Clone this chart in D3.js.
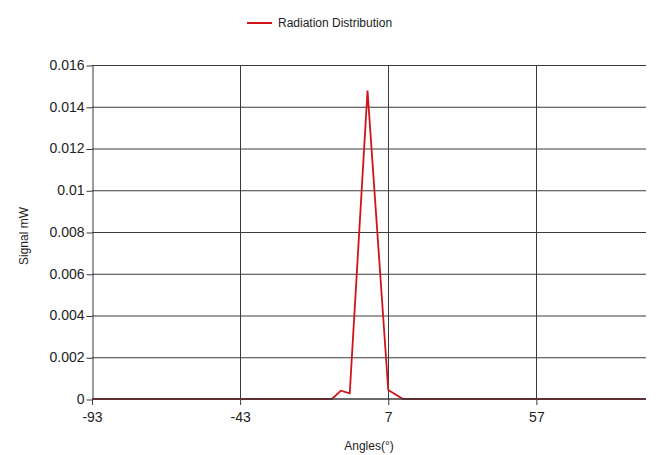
<!DOCTYPE html>
<html lang="en">
<head>
    <meta charset="UTF-8">
    <title>Radiation Distribution</title>
    <style>
        body {
            margin: 0;
            padding: 0;
            background: #fff;
            font-family: "Liberation Sans", Arial, sans-serif;
        }
        .grid line {
            stroke: #3a3a3a;
            stroke-width: 1px;
        }
        .axis text {
            fill: #222;
            font-size: 14px;
        }
        .axis path, .axis line {
            stroke: #3a3a3a;
        }
    </style>
</head>
<body>
    <div id="chart"></div>

    <script src="https://d3js.org/d3.v7.min.js"></script>
    <script>
        // measured angles (deg) and signal (mW)
        const angles  = [-93, -80, -60, -40, -20, -12, -9, -6, 0, 7, 12, 20, 40, 60, 80, 94];
        const signals = [0, 0, 0, 0, 0, 0, 0.0004, 0.00027, 0.01477, 0.00043, 0, 0, 0, 0, 0, 0];
        const xTicks = [-93, -43, 7, 57];
        const yTicks = [0, 0.002, 0.004, 0.006, 0.008, 0.01, 0.012, 0.014, 0.016];
        const seriesName = "Radiation Distribution";

        const width = 667, height = 455;
        const margin = { left: 92, right: 21, top: 65, bottom: 56 };

        const svg = d3.select("#chart")
            .append("svg")
            .attr("width", width)
            .attr("height", height);

        const x = d3.scaleLinear()
            .domain([-93, 94])
            .range([margin.left, width - margin.right]);
        const y = d3.scaleLinear()
            .domain([0, 0.016])
            .range([height - margin.bottom, margin.top]);

        // horizontal grid
        svg.append("g").attr("class", "grid")
            .selectAll("line")
            .data(yTicks.filter(d => d > 0))
            .enter().append("line")
            .attr("x1", x.range()[0])
            .attr("x2", x.range()[1])
            .attr("y1", d => y(d) + 0.5)
            .attr("y2", d => y(d) + 0.5);

        // vertical grid
        svg.append("g").attr("class", "grid")
            .selectAll("line")
            .data(xTicks.slice(1))
            .enter().append("line")
            .attr("x1", d => Math.round(x(d)) + 0.5)
            .attr("x2", d => Math.round(x(d)) + 0.5)
            .attr("y1", y.range()[1])
            .attr("y2", y.range()[0]);

        // series
        const line = d3.line()
            .x((d, i) => x(angles[i]))
            .y(d => y(d));

        svg.append("path")
            .datum(signals)
            .attr("fill", "none")
            .attr("stroke", "#d0141c")
            .attr("stroke-width", 1.8)
            .attr("d", line);

        // axes
        const yAxis = d3.axisLeft(y)
            .tickValues(yTicks)
            .tickSize(6)
            .tickSizeOuter(0)
            .tickFormat(d => d === 0 ? "0" : String(+d.toFixed(3)));
        svg.append("g")
            .attr("class", "axis")
            .attr("transform", `translate(${margin.left + 0.5},0)`)
            .call(yAxis)
            .call(g => g.selectAll(".tick line").attr("transform", "translate(0,0.5)"))
            .call(g => g.selectAll("text").attr("x", -8));

        const xAxis = d3.axisBottom(x)
            .tickValues(xTicks)
            .tickSize(6)
            .tickSizeOuter(0)
            .tickFormat(d => String(d));
        svg.append("g")
            .attr("class", "axis")
            .attr("transform", `translate(0,${height - margin.bottom})`)
            .call(xAxis)
            .call(g => g.select(".domain")
                .attr("d", `M${x.range()[0]},0H${x.range()[1]}`)
                .attr("stroke-width", 1.4)
                .attr("stroke", "#4a4a4a"))
            .call(g => g.selectAll("text").attr("y", 13));

        // axis titles
        svg.append("text")
            .attr("x", (x.range()[0] + x.range()[1]) / 2)
            .attr("y", 450)
            .attr("text-anchor", "middle")
            .attr("font-size", "12px")
            .attr("fill", "#222")
            .text("Angles(°)");

        svg.append("text")
            .attr("transform", `translate(28,${(y.range()[0] + y.range()[1]) / 2 + 4}) rotate(-90)`)
            .attr("text-anchor", "middle")
            .attr("font-size", "12px")
            .attr("fill", "#222")
            .text("Signal mW");

        // legend
        const legend = svg.append("g").attr("transform", "translate(247,23)");
        legend.append("line")
            .attr("x1", 0).attr("x2", 25)
            .attr("stroke", "#d0141c")
            .attr("stroke-width", 2);
        legend.append("text")
            .attr("x", 31)
            .attr("y", 4)
            .attr("font-size", "12px")
            .attr("fill", "#222")
            .text(seriesName);
    </script>
</body>
</html>
